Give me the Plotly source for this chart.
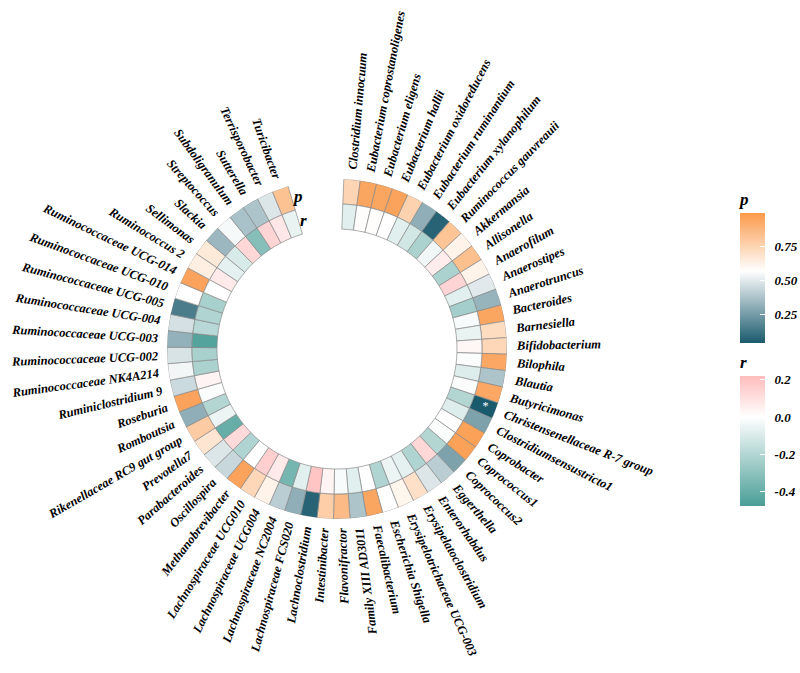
import math
import plotly.graph_objects as go

genera = [
    "Clostridium innocuum", "Eubacterium coprostanoligenes", "Eubacterium eligens",
    "Eubacterium hallii", "Eubacterium oxidoreducens", "Eubacterium ruminantium",
    "Eubacterium xylanophilum", "Ruminococcus gauvreauii", "Akkermansia", "Allisonella",
    "Anaerofilum", "Anaerostipes", "Anaerotruncus", "Bacteroides", "Barnesiella",
    "Bifidobacterium", "Bilophila", "Blautia", "Butyricimonas",
    "Christensenellaceae R-7 group", "Clostridiumsensustricto1", "Coprobacter",
    "Coprococcus1", "Coprococcus2", "Eggerthella", "Enterorhabdus",
    "Erysipelatoclostridium", "Erysipelotrichaceae UCG-003", "Escherichia Shigella",
    "Faecalibacterium", "Family XIII AD3011", "Flavonifractor", "Intestinibacter",
    "Lachnoclostridium", "Lachnospiraceae FCS020", "Lachnospiraceae NC2004",
    "Lachnospiraceae UCG004", "Lachnospiraceae UCG010", "Methanobrevibacter",
    "Oscillospira", "Parabacteroides", "Prevotella7", "Rikenellaceae RC9 gut group",
    "Romboutsia", "Roseburia", "Ruminiclostridium 9", "Ruminococcaceae NK4A214",
    "Ruminococcaceae UCG-002", "Ruminococcaceae UCG-003", "Ruminococcaceae UCG-004",
    "Ruminococcaceae UCG-005", "Ruminococcaceae UCG-010", "Ruminococcaceae UCG-014",
    "Ruminococcus 2", "Sellimonas", "Slackia", "Streptococcus", "Subdoligranulum",
    "Sutterella", "Terrisporobacter", "Turicibacter",
]

p_values = [
    0.75, 0.95, 0.95, 0.96, 0.76, 0.31, 0.07, 0.82, 0.62, 0.84,
    0.62, 0.50, 0.33, 0.95, 0.72, 0.74, 0.94, 0.38, 0.94, 0.04,
    0.27, 0.97, 0.97, 0.27, 0.41, 0.49, 0.70, 0.61, 0.57, 0.95,
    0.38, 0.86, 0.78, 0.07, 0.31, 0.41, 0.62, 0.74, 0.96, 0.44,
    0.49, 0.68, 0.79, 0.31, 0.96, 0.45, 0.54, 0.48, 0.32, 0.47,
    0.15, 0.57, 0.96, 0.64, 0.66, 0.34, 0.55, 0.37, 0.38, 0.49,
    0.83,
]

r_values = [
    -0.08, 0.01, 0.01, 0.00, -0.08, -0.12, -0.22, -0.04, 0.06, -0.22,
    0.14, -0.08, -0.24, -0.02, -0.06, 0.03, -0.01, -0.09, -0.01, -0.20,
    -0.09, 0.00, -0.01, -0.20, 0.13, -0.21, -0.07, -0.05, -0.21, 0.00,
    -0.08, -0.02, 0.04, 0.19, -0.08, -0.36, 0.07, 0.16, 0.00, -0.21,
    0.12, -0.40, -0.05, -0.20, -0.01, 0.04, -0.22, -0.23, -0.45, -0.19,
    -0.21, -0.23, 0.00, 0.07, -0.07, -0.10, 0.13, -0.32, 0.14, 0.08,
    -0.06,
]

p_ticks = [0.25, 0.50, 0.75]
r_ticks = [-0.4, -0.2, 0.0, 0.2]

W, H = 800, 673
CX, CY = 337, 349          # circle centre in pixels
R_OUT = 170                # outer radius of the p ring
RING = 25                  # ring thickness
START = 2.3                # first cell starts just right of 12 o'clock
STEP = 5.59                # degrees per genus
LABEL_R = 180
FONT = "Liberation Serif"
FS = 12.5

n = len(genera)
theta = [START + STEP * (i + 0.5) for i in range(n)]

P_MIN, P_MAX = 0.04, 1.0
R_MIN, R_MAX = -0.477, 0.22
p_scale = [[0, "#1a5a6d"], [(0.57 - P_MIN) / (P_MAX - P_MIN), "#ffffff"], [1, "#fb9a4b"]]
r_scale = [[0, "#4a9e97"], [(0 - R_MIN) / (R_MAX - R_MIN), "#ffffff"], [1, "#ffbcbc"]]

# Times bold italic advance widths (per 1000 em) to size the rotated labels
TBI = dict(zip("ABCDEFGHIJKLMNOPQRSTUVWXYZ",
               [667, 667, 667, 722, 667, 667, 722, 778, 389, 500, 667, 611, 889,
                722, 722, 611, 722, 667, 556, 611, 722, 667, 889, 667, 611, 611]))
TBI.update(dict(zip("abcdefghijklmnopqrstuvwxyz",
                    [500, 500, 444, 500, 444, 333, 500, 556, 278, 278, 500, 278, 778,
                     556, 500, 500, 500, 389, 389, 278, 556, 444, 667, 500, 444, 389])))
TBI.update({c: 500 for c in "0123456789"})
TBI.update({" ": 250, "-": 333})


def text_width(s, size):
    return sum(TBI.get(c, 500) for c in s) / 1000.0 * size


def to_paper(r, th):
    x = CX + r * math.sin(math.radians(th))
    y = CY - r * math.cos(math.radians(th))
    return x / W, 1 - y / H


def colorbar(title, bottom_px, ticks, fmt):
    return dict(
        title=dict(text=title, side="top",
                   font=dict(family=FONT, size=17, weight="bold", style="italic", color="black")),
        x=740 / W, xanchor="left", xpad=0, y=1 - bottom_px / H, yanchor="bottom", ypad=0,
        lenmode="pixels", len=154, thickness=25, outlinewidth=0,
        tickvals=ticks, ticktext=["\u00a0\u00a0" + fmt % v for v in ticks],
        ticks="inside", ticklen=5, tickcolor="white",
        tickfont=dict(family=FONT, size=13, weight="bold", style="italic", color="black"),
    )


line = dict(color="#8a8a8a", width=0.7)
fig = go.Figure()

fig.add_trace(go.Barpolar(
    r=[RING] * n, base=[R_OUT - RING] * n, theta=theta, width=[STEP] * n,
    marker=dict(color=p_values, colorscale=p_scale, cmin=P_MIN, cmax=P_MAX, line=line,
                colorbar=colorbar("p", 343, p_ticks, "%.2f")),
    customdata=genera, hovertemplate="%{customdata}<br>p=%{marker.color}<extra></extra>",
    showlegend=False,
))

fig.add_trace(go.Barpolar(
    r=[RING] * n, base=[R_OUT - 2 * RING] * n, theta=theta, width=[STEP] * n,
    marker=dict(color=r_values, colorscale=r_scale, cmin=R_MIN, cmax=R_MAX, line=line,
                colorbar=colorbar("r", 506, r_ticks, "%.1f")),
    customdata=genera, hovertemplate="%{customdata}<br>r=%{marker.color}<extra></extra>",
    showlegend=False,
))

# significance star (p < 0.05)
stars = ["*" if p < 0.05 else "" for p in p_values]
fig.add_trace(go.Scatterpolar(
    r=[R_OUT - RING / 2 + 2] * n, theta=theta, mode="text", text=stars,
    textfont=dict(color="white", size=12, family=FONT), hoverinfo="skip", showlegend=False,
))

annotations = []
for i, (name, th) in enumerate(zip(genera, theta)):
    w = text_width(name, FS)
    x, y = to_paper(LABEL_R + w / 2, th)
    ang = th - 90 if i < 30 else th - 270
    annotations.append(dict(
        x=x, y=y, xref="paper", yref="paper", text=name, showarrow=False,
        textangle=ang, xanchor="center", yanchor="middle", borderpad=0,
        font=dict(family=FONT, size=FS, weight="bold", style="italic", color="black"),
    ))

# ring names in the gap after the last genus
gap_th = START + n * STEP + 2
for label, rr in [("p", R_OUT - RING / 2), ("r", R_OUT - 1.5 * RING)]:
    x, y = to_paper(rr, gap_th)
    annotations.append(dict(
        x=x, y=y, xref="paper", yref="paper", text=label, showarrow=False,
        xanchor="center", yanchor="middle",
        font=dict(family=FONT, size=17, weight="bold", style="italic", color="black"),
    ))

fig.update_layout(
    width=W, height=H,
    margin=dict(l=0, r=0, t=0, b=0, autoexpand=False),
    paper_bgcolor="white", plot_bgcolor="white",
    polar=dict(
        domain=dict(x=[(CX - R_OUT) / W, (CX + R_OUT) / W],
                    y=[1 - (CY + R_OUT) / H, 1 - (CY - R_OUT) / H]),
        bgcolor="rgba(0,0,0,0)",
        radialaxis=dict(range=[0, R_OUT], visible=False),
        angularaxis=dict(rotation=90, direction="clockwise", visible=False),
    ),
    annotations=annotations,
)

fig.write_html("out.html", config={"displayModeBar": False},
               post_script="document.body.style.margin='0px';")
